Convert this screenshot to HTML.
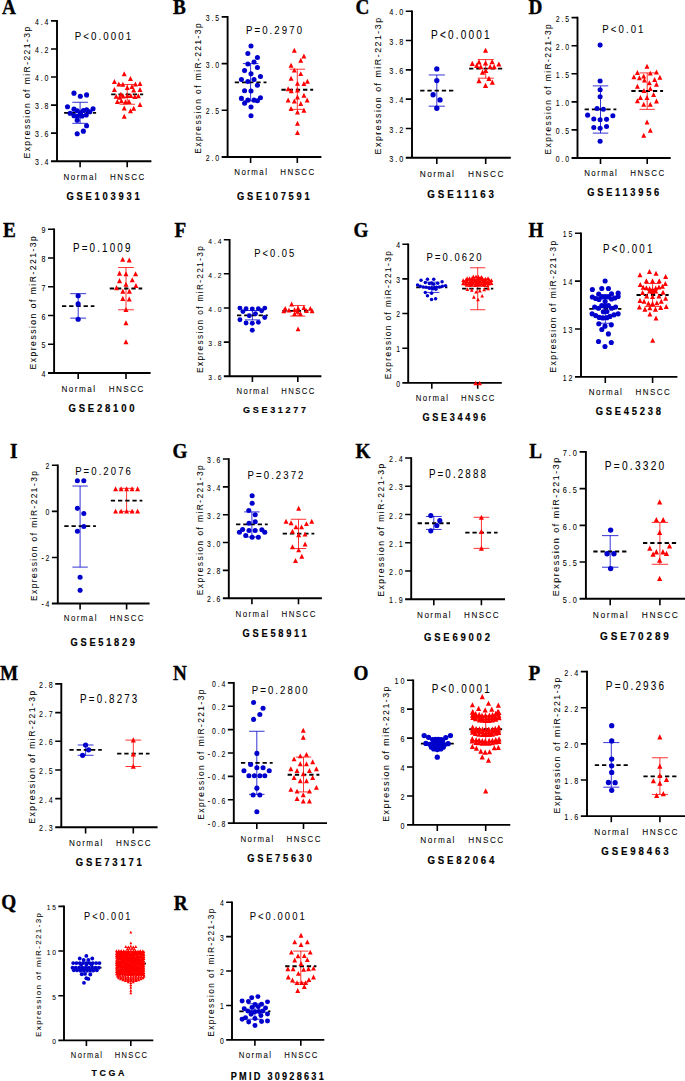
<!DOCTYPE html>
<html><head><meta charset="utf-8"><title>miR-221-3p expression</title><style>
html,body{margin:0;padding:0;background:#fff;}
svg{display:block;}
text{font-family:"Liberation Sans",sans-serif;fill:#000;}
.L{font-family:"Liberation Serif",serif;font-weight:bold;font-size:19.2px;stroke:#000;stroke-width:0.35px;}
.tk{font-size:7.0px;letter-spacing:1.9px;text-anchor:end;fill:#000;stroke:#000;stroke-width:0.05px;}
.yl{font-size:8.5px;letter-spacing:1.45px;text-anchor:middle;fill:#000;stroke:#000;stroke-width:0.05px;}
.ct{font-size:8.0px;letter-spacing:1.45px;text-anchor:middle;fill:#000;stroke:#000;stroke-width:0.05px;}
.pv{font-size:9.7px;letter-spacing:2.1px;text-anchor:middle;fill:#000;stroke:#000;stroke-width:0.05px;}
.tt{font-size:9.4px;letter-spacing:2.75px;text-anchor:middle;font-weight:bold;stroke:#000;stroke-width:0.15px;}
.ax{stroke:#000;stroke-width:1.9;fill:none;}
.tkl{stroke:#000;stroke-width:1.6;fill:none;}
.mn{stroke:#000;stroke-width:1.8;stroke-dasharray:4.3 2.9;fill:none;}
</style></head>
<body><svg width="685" height="1081" viewBox="0 0 685 1081">
<rect width="685" height="1081" fill="#fff"/>
<text class="L" transform="translate(2 13.9) scale(1.0000 1.0500)">A</text>
<path class="ax" d="M57 20.1V161.2M51 161.2H151.4"/>
<text class="tk" transform="translate(50.4 165.21) scale(1.0000 1.2000)">3.4</text>
<text class="tk" transform="translate(50.4 137.15) scale(1.0000 1.2000)">3.6</text>
<text class="tk" transform="translate(50.4 109.09) scale(1.0000 1.2000)">3.8</text>
<text class="tk" transform="translate(50.4 81.03) scale(1.0000 1.2000)">4.0</text>
<text class="tk" transform="translate(50.4 52.97) scale(1.0000 1.2000)">4.2</text>
<text class="tk" transform="translate(50.4 24.91) scale(1.0000 1.2000)">4.4</text>
<path class="tkl" d="M51 133.14H57M51 105.08H57M51 77.02H57M51 48.96H57M51 20.9H57M80.1 161.2V167.2M127.2 161.2V167.2"/>
<text class="yl" transform="translate(30.44 91.95) rotate(-90) scale(1.0000)">Expression of miR-221-3p</text>
<text class="pv" transform="translate(104.05 40.04) scale(1.0000 1.2200)">P&lt;0.0001</text>
<text class="ct" transform="translate(80.82 179.59) scale(1.0000 1.1500)">Normal</text>
<text class="ct" transform="translate(127.92 179.59) scale(1.0000 1.1500)">HNSCC</text>
<text class="tt" transform="translate(104.43 199.7) scale(1.0000 1.1000)">GSE103931</text>
<path d="M80.1 102.27V123.32M72.3 102.27H87.9M72.3 123.32H87.9" stroke="#0000cc" stroke-width="0.8" fill="none"/>
<path class="mn" d="M64.1 112.8H96.1"/>
<g fill="#0000cc"><circle cx="73.97" cy="93.17" r="2.55"/><circle cx="80.32" cy="96.21" r="2.55"/><circle cx="86.6" cy="94.92" r="2.55"/><circle cx="67.5" cy="106.76" r="2.55"/><circle cx="93.07" cy="108.71" r="2.55"/><circle cx="73.97" cy="109.16" r="2.55"/><circle cx="77.21" cy="110.78" r="2.55"/><circle cx="83.36" cy="110.45" r="2.55"/><circle cx="86.6" cy="109.81" r="2.55"/><circle cx="89.83" cy="111.75" r="2.55"/><circle cx="70.09" cy="113.24" r="2.55"/><circle cx="73.97" cy="115.63" r="2.55"/><circle cx="77.53" cy="116.28" r="2.55"/><circle cx="82.06" cy="115.95" r="2.55"/><circle cx="86.27" cy="114.98" r="2.55"/><circle cx="77.21" cy="120.16" r="2.55"/><circle cx="86.6" cy="125.79" r="2.55"/><circle cx="83.36" cy="131.17" r="2.55"/><circle cx="77.21" cy="133.75" r="2.55"/><circle cx="80.45" cy="112.72" r="2.55"/></g>
<path d="M127.2 84.46V104.24M119.4 84.46H135M119.4 104.24H135" stroke="#ff0000" stroke-width="0.8" fill="none"/>
<path class="mn" d="M111.2 94.28H143.2"/>
<path fill="#ff0000" d="M124.23 71.34L126.73 76.34H121.73ZM130.48 76.01L132.98 81.01H127.98ZM114.42 78.93L116.92 83.93H111.92ZM118.8 81.56L121.3 86.56H116.3ZM122.89 81.85L125.39 86.85H120.39ZM135.45 81.56L137.95 86.56H132.95ZM140 80.97L142.5 85.97H137.5ZM127.27 85.06L129.77 90.06H124.77ZM131.94 83.89L134.44 88.89H129.44ZM114.42 87.1L116.92 92.1H111.92ZM133.69 87.4L136.19 92.4H131.19ZM140 87.1L142.5 92.1H137.5ZM120.85 91.78L123.35 96.78H118.35ZM116.18 93.82L118.68 98.82H113.68ZM119.68 94.7L122.18 99.7H117.18ZM123.18 93.53L125.68 98.53H120.68ZM127.27 92.94L129.77 97.94H124.77ZM130.77 92.94L133.27 97.94H128.27ZM134.86 94.11L137.36 99.11H132.36ZM138.36 93.24L140.86 98.24H135.86ZM117.34 99.07L119.84 104.07H114.84ZM121.43 98.2L123.93 103.2H118.93ZM125.52 99.37L128.02 104.37H123.02ZM129.02 99.07L131.52 104.07H126.52ZM140 101.99L142.5 106.99H137.5ZM124.23 105.5L126.73 110.5H121.73ZM133.69 105.79L136.19 110.79H131.19ZM130.48 108.13L132.98 113.13H127.98ZM124.23 113.67L126.73 118.67H121.73Z"/>
<text class="L" transform="translate(173 13.6) scale(1.0000 1.0500)">B</text>
<path class="ax" d="M227.6 16.1V157M221.65 157H321.4"/>
<text class="tk" transform="translate(221.06 160.98) scale(0.9915 1.1898)">2.0</text>
<text class="tk" transform="translate(221.06 114.28) scale(0.9915 1.1898)">2.5</text>
<text class="tk" transform="translate(221.06 67.58) scale(0.9915 1.1898)">3.0</text>
<text class="tk" transform="translate(221.06 20.88) scale(0.9915 1.1898)">3.5</text>
<path class="tkl" d="M221.65 110.3H227.6M221.65 63.6H227.6M221.65 16.9H227.6M250.6 157V162.95M297.3 157V162.95"/>
<text class="yl" transform="translate(201.32 87.85) rotate(-90) scale(0.9915)">Expression of miR-221-3p</text>
<text class="pv" transform="translate(275.04 34.1) scale(0.9915 1.2096)">P=0.2970</text>
<text class="ct" transform="translate(251.32 175.17) scale(0.9915 1.1402)">Normal</text>
<text class="ct" transform="translate(298.02 175.17) scale(0.9915 1.1402)">HNSCC</text>
<text class="tt" transform="translate(274.71 200.17) scale(0.9915 1.0907)">GSE107591</text>
<path d="M250.6 63.6V100.96M242.87 63.6H258.33M242.87 100.96H258.33" stroke="#0000cc" stroke-width="0.8" fill="none"/>
<path class="mn" d="M234.74 82.28H266.46"/>
<g fill="#0000cc"><circle cx="251" cy="46.07" r="2.53"/><circle cx="247.85" cy="53.43" r="2.53"/><circle cx="257.42" cy="57.52" r="2.53"/><circle cx="254.04" cy="61.96" r="2.53"/><circle cx="247.85" cy="63.94" r="2.53"/><circle cx="257.42" cy="67.45" r="2.53"/><circle cx="244.58" cy="70.6" r="2.53"/><circle cx="251" cy="73.87" r="2.53"/><circle cx="260.46" cy="76.55" r="2.53"/><circle cx="241.42" cy="79.47" r="2.53"/><circle cx="254.04" cy="79.47" r="2.53"/><circle cx="247.85" cy="81.46" r="2.53"/><circle cx="257.42" cy="85.31" r="2.53"/><circle cx="244.58" cy="90.8" r="2.53"/><circle cx="251" cy="91.04" r="2.53"/><circle cx="241.42" cy="98.39" r="2.53"/><circle cx="247.85" cy="100.15" r="2.53"/><circle cx="254.04" cy="100.15" r="2.53"/><circle cx="257.42" cy="100.73" r="2.53"/><circle cx="260.46" cy="97.81" r="2.53"/><circle cx="244.58" cy="103.3" r="2.53"/><circle cx="251" cy="106.92" r="2.53"/><circle cx="251" cy="115.68" r="2.53"/></g>
<path d="M297.3 69.2V109.37M289.57 69.2H305.03M289.57 109.37H305.03" stroke="#ff0000" stroke-width="0.8" fill="none"/>
<path class="mn" d="M281.44 89.75H313.16"/>
<path fill="#ff0000" d="M294.33 47.78L296.81 52.74H291.85ZM303.91 53.62L306.38 58.58H301.43ZM300.75 57.71L303.23 62.67H298.27ZM291.06 62.73L293.54 67.69H288.58ZM294.33 67.64L296.81 72.6H291.85ZM300.75 71.14L303.23 76.1H298.27ZM291.06 75.81L293.54 80.77H288.58ZM307.41 78.73L309.89 83.69H304.93ZM303.91 81.07L306.38 86.03H301.43ZM297.48 80.72L299.96 85.68H295ZM288.14 86.32L290.62 91.28H285.66ZM291.29 88.31L293.77 93.27H288.81ZM297.48 87.49L299.96 92.45H295ZM303.91 92.75L306.38 97.71H301.43ZM297.48 94.5L299.96 99.46H295ZM288.14 97.42L290.62 102.38H285.66ZM294.33 98.59L296.81 103.54H291.85ZM307.18 97.42L309.65 102.38H304.7ZM300.75 100.92L303.23 105.88H298.27ZM291.06 105.94L293.54 110.9H288.58ZM297.48 109.45L299.96 114.41H295ZM303.91 107.7L306.38 112.65H301.43ZM297.48 120.78L299.96 125.73H295ZM297.48 130.12L299.96 135.08H295Z"/>
<text class="L" transform="translate(355.4 14.4) scale(1.0000 1.0500)">C</text>
<path class="ax" d="M412 10.4V157.8M405.77 157.8H510.8"/>
<text class="tk" transform="translate(405.15 161.92) scale(1.0382 1.2459)">3.0</text>
<text class="tk" transform="translate(405.15 132.6) scale(1.0382 1.2459)">3.2</text>
<text class="tk" transform="translate(405.15 103.28) scale(1.0382 1.2459)">3.4</text>
<text class="tk" transform="translate(405.15 73.96) scale(1.0382 1.2459)">3.6</text>
<text class="tk" transform="translate(405.15 44.64) scale(1.0382 1.2459)">3.8</text>
<text class="tk" transform="translate(405.15 15.32) scale(1.0382 1.2459)">4.0</text>
<path class="tkl" d="M405.77 128.48H412M405.77 99.16H412M405.77 69.84H412M405.77 40.52H412M405.77 11.2H412M436.8 157.8V164.03M485.7 157.8V164.03"/>
<text class="yl" transform="translate(381.46 85.4) rotate(-90) scale(1.0382)">Expression of miR-221-3p</text>
<text class="pv" transform="translate(461.39 39.2) scale(1.0382 1.2666)">P&lt;0.0001</text>
<text class="ct" transform="translate(437.55 177.12) scale(1.0382 1.1939)">Normal</text>
<text class="ct" transform="translate(486.45 177.12) scale(1.0382 1.1939)">HNSCC</text>
<text class="tt" transform="translate(462.08 197.84) scale(1.0382 1.1420)">GSE11163</text>
<path d="M436.8 74.97V106.2M428.7 74.97H444.9M428.7 106.2H444.9" stroke="#0000cc" stroke-width="0.8" fill="none"/>
<path class="mn" d="M420.19 90.66H453.41"/>
<g fill="#0000cc"><circle cx="436.8" cy="68.96" r="2.65"/><circle cx="436.8" cy="80.54" r="2.65"/><circle cx="433.1" cy="94.76" r="2.65"/><circle cx="440" cy="99.89" r="2.65"/><circle cx="436.8" cy="108.25" r="2.65"/></g>
<path d="M485.7 59.58V78.2M477.6 59.58H493.8M477.6 78.2H493.8" stroke="#ff0000" stroke-width="0.8" fill="none"/>
<path class="mn" d="M469.09 68.67H502.31"/>
<path fill="#ff0000" d="M485.55 47.66L488.15 52.85H482.96ZM472.3 60.79L474.89 65.99H469.7ZM479.01 59.33L481.61 64.53H476.42ZM485.55 60.21L488.15 65.4H482.96ZM492.15 59.04L494.75 64.23H489.56ZM498.87 61.38L501.46 66.57H496.27ZM476.68 62.84L479.27 68.03H474.08ZM480.77 64.01L483.36 69.2H478.17ZM490.11 64.01L492.71 69.2H487.51ZM494.2 64.01L496.79 69.2H491.6ZM482.52 69.55L485.11 74.74H479.92ZM485.73 67.8L488.33 72.99H483.13ZM479.01 78.02L481.61 83.21H476.42ZM488.94 75.69L491.54 80.88H486.35ZM492.33 79.48L494.92 84.67H489.73ZM485.55 82.69L488.15 87.88H482.96Z"/>
<text class="L" transform="translate(528.4 14) scale(1.0000 1.0500)">D</text>
<path class="ax" d="M577.5 16.8V158M571.55 158H670.7"/>
<text class="tk" transform="translate(570.96 161.98) scale(0.9915 1.1898)">0.0</text>
<text class="tk" transform="translate(570.96 133.9) scale(0.9915 1.1898)">0.5</text>
<text class="tk" transform="translate(570.96 105.82) scale(0.9915 1.1898)">1.0</text>
<text class="tk" transform="translate(570.96 77.74) scale(0.9915 1.1898)">1.5</text>
<text class="tk" transform="translate(570.96 49.66) scale(0.9915 1.1898)">2.0</text>
<text class="tk" transform="translate(570.96 21.58) scale(0.9915 1.1898)">2.5</text>
<path class="tkl" d="M571.55 129.92H577.5M571.55 101.84H577.5M571.55 73.76H577.5M571.55 45.68H577.5M571.55 17.6H577.5M600.5 158V163.95M647.2 158V163.95"/>
<text class="yl" transform="translate(550.82 88.7) rotate(-90) scale(0.9915)">Expression of miR-221-3p</text>
<text class="pv" transform="translate(623.94 32.6) scale(0.9915 1.2096)">P&lt;0.01</text>
<text class="ct" transform="translate(601.22 175.97) scale(0.9915 1.1402)">Normal</text>
<text class="ct" transform="translate(647.92 175.97) scale(0.9915 1.1402)">HNSCC</text>
<text class="tt" transform="translate(624.61 196.37) scale(0.9915 1.0907)">GSE113956</text>
<path d="M600.5 85.89V133.12M592.77 85.89H608.23M592.77 133.12H608.23" stroke="#0000cc" stroke-width="0.8" fill="none"/>
<path class="mn" d="M584.64 109.37H616.36"/>
<g fill="#0000cc"><circle cx="600.11" cy="45.11" r="2.53"/><circle cx="600.11" cy="80.99" r="2.53"/><circle cx="600.11" cy="89.79" r="2.53"/><circle cx="600.11" cy="96.75" r="2.53"/><circle cx="597.08" cy="108.45" r="2.53"/><circle cx="603.39" cy="109.24" r="2.53"/><circle cx="587.62" cy="115.15" r="2.53"/><circle cx="612.85" cy="115.68" r="2.53"/><circle cx="593.8" cy="119.09" r="2.53"/><circle cx="600.11" cy="119.75" r="2.53"/><circle cx="606.54" cy="119.36" r="2.53"/><circle cx="593.8" cy="127.5" r="2.53"/><circle cx="600.11" cy="128.29" r="2.53"/><circle cx="606.54" cy="126.58" r="2.53"/><circle cx="600.11" cy="141.3" r="2.53"/></g>
<path d="M647.2 72.92V109.37M639.47 72.92H654.93M639.47 109.37H654.93" stroke="#ff0000" stroke-width="0.8" fill="none"/>
<path class="mn" d="M631.34 91H663.06"/>
<path fill="#ff0000" d="M647.02 63.8L649.5 68.76H644.54ZM637.42 69.98L639.9 74.94H634.95ZM650.3 70.64L652.78 75.59H647.82ZM656.48 69.59L658.96 74.54H654ZM633.88 74.32L636.36 79.27H631.4ZM639.4 75.24L641.87 80.19H636.92ZM643.73 73.53L646.21 78.49H641.25ZM659.89 74.84L662.37 79.8H657.42ZM644.39 77.6L646.87 82.56H641.91ZM654.64 76.94L657.12 81.9H652.16ZM649.38 80.23L651.86 85.19H646.9ZM656.48 81.81L658.96 86.76H654ZM637.42 83.78L639.9 88.74H634.95ZM650.3 86.01L652.78 90.97H647.82ZM643.99 87.98L646.47 92.94H641.52ZM640.45 94.95L642.93 99.91H637.97ZM647.02 94.95L649.5 99.91H644.54ZM653.59 92.06L656.07 97.01H651.11ZM637.42 98.23L639.9 103.19H634.95ZM656.48 98.5L658.96 103.45H654ZM643.73 101.78L646.21 106.74H641.25ZM650.3 101.78L652.78 106.74H647.82ZM647.02 119.52L649.5 124.48H644.54ZM650.3 127.8L652.78 132.76H647.82ZM643.73 132.79L646.21 137.75H641.25Z"/>
<text class="L" transform="translate(3 237.2) scale(1.0000 1.0500)">E</text>
<path class="ax" d="M54.1 228.5V373M48.01 373H150.6"/>
<text class="tk" transform="translate(47.4 377.05) scale(1.0149 1.2178)">4</text>
<text class="tk" transform="translate(47.4 348.31) scale(1.0149 1.2178)">5</text>
<text class="tk" transform="translate(47.4 319.57) scale(1.0149 1.2178)">6</text>
<text class="tk" transform="translate(47.4 290.83) scale(1.0149 1.2178)">7</text>
<text class="tk" transform="translate(47.4 262.09) scale(1.0149 1.2178)">8</text>
<text class="tk" transform="translate(47.4 233.35) scale(1.0149 1.2178)">9</text>
<path class="tkl" d="M48.01 344.26H54.1M48.01 315.52H54.1M48.01 286.78H54.1M48.01 258.04H54.1M48.01 229.3H54.1M78.2 373V379.09M126 373V379.09"/>
<text class="yl" transform="translate(35.89 302.05) rotate(-90) scale(1.0149)">Expression of miR-221-3p</text>
<text class="pv" transform="translate(102.77 251.5) scale(1.0149 1.2381)">P=0.1009</text>
<text class="ct" transform="translate(78.94 391.84) scale(1.0149 1.1671)">Normal</text>
<text class="ct" transform="translate(126.74 391.84) scale(1.0149 1.1671)">HNSCC</text>
<text class="tt" transform="translate(102.9 412.06) scale(1.0149 1.1163)">GSE28100</text>
<path d="M78.2 293.68V318.11M70.28 293.68H86.12M70.28 318.11H86.12" stroke="#0000cc" stroke-width="0.8" fill="none"/>
<path class="mn" d="M61.96 306.04H94.44"/>
<g fill="#0000cc"><circle cx="78.13" cy="295.73" r="2.59"/><circle cx="78.13" cy="303.88" r="2.59"/><circle cx="78.13" cy="319.25" r="2.59"/></g>
<path d="M126 267.52V309.77M118.08 267.52H133.92M118.08 309.77H133.92" stroke="#ff0000" stroke-width="0.8" fill="none"/>
<path class="mn" d="M109.76 288.5H142.24"/>
<path fill="#ff0000" d="M122.68 256.67L125.22 261.74H120.14ZM129.25 257.46L131.79 262.53H126.71ZM119.53 270.6L122.06 275.67H116.99ZM125.97 271.13L128.5 276.2H123.43ZM135.56 271.13L138.1 276.2H133.02ZM119.53 278.09L122.06 283.16H116.99ZM132.27 277.17L134.81 282.24H129.74ZM125.97 281.64L128.5 286.71H123.43ZM116.5 285.05L119.04 290.13H113.97ZM135.95 282.95L138.49 288.03H133.42ZM122.81 288.6L125.35 293.68H120.27ZM129.38 288.6L131.92 293.68H126.85ZM122.81 295.83L125.35 300.9H120.27ZM129.25 296.49L131.79 301.56H126.71ZM125.97 307L128.5 312.07H123.43ZM125.97 320.14L128.5 325.21H123.43ZM125.97 339.19L128.5 344.27H123.43Z"/>
<text class="L" transform="translate(174.5 237.2) scale(1.0000 1.0500)">F</text>
<path class="ax" d="M229.6 238.9V376.2M223.82 376.2H321.4"/>
<text class="tk" transform="translate(223.24 380.1) scale(0.9639 1.1567)">3.6</text>
<text class="tk" transform="translate(223.24 345.97) scale(0.9639 1.1567)">3.8</text>
<text class="tk" transform="translate(223.24 311.85) scale(0.9639 1.1567)">4.0</text>
<text class="tk" transform="translate(223.24 277.72) scale(0.9639 1.1567)">4.2</text>
<text class="tk" transform="translate(223.24 243.6) scale(0.9639 1.1567)">4.4</text>
<path class="tkl" d="M223.82 342.08H229.6M223.82 307.95H229.6M223.82 273.82H229.6M223.82 239.7H229.6M252.4 376.2V381.98M297.8 376.2V381.98"/>
<text class="yl" transform="translate(203.23 308.85) rotate(-90) scale(0.9639)">Expression of miR-221-3p</text>
<text class="pv" transform="translate(275.21 256.78) scale(0.9639 1.1760)">P&lt;0.05</text>
<text class="ct" transform="translate(253.1 394.17) scale(0.9639 1.1085)">Normal</text>
<text class="ct" transform="translate(298.5 394.17) scale(0.9639 1.1085)">HNSCC</text>
<text class="tt" transform="translate(275.83 412.87) scale(0.9639 1.0603)">GSE31277</text>
<path d="M252.4 310.51V319.89M244.88 310.51H259.92M244.88 319.89H259.92" stroke="#0000cc" stroke-width="0.8" fill="none"/>
<path class="mn" d="M236.98 315.46H267.82"/>
<g fill="#0000cc"><circle cx="239.91" cy="308.1" r="2.46"/><circle cx="246.09" cy="308.69" r="2.46"/><circle cx="252.28" cy="308.92" r="2.46"/><circle cx="258.36" cy="308.69" r="2.46"/><circle cx="264.78" cy="308.1" r="2.46"/><circle cx="242.94" cy="311.61" r="2.46"/><circle cx="261.63" cy="310.79" r="2.46"/><circle cx="249.25" cy="315.69" r="2.46"/><circle cx="255.44" cy="313.71" r="2.46"/><circle cx="264.78" cy="317.45" r="2.46"/><circle cx="239.91" cy="319.78" r="2.46"/><circle cx="246.09" cy="323.05" r="2.46"/><circle cx="252.28" cy="323.28" r="2.46"/><circle cx="258.36" cy="322.35" r="2.46"/><circle cx="252.28" cy="330.29" r="2.46"/></g>
<path d="M297.8 305.56V316.14M290.28 305.56H305.32M290.28 316.14H305.32" stroke="#ff0000" stroke-width="0.8" fill="none"/>
<path class="mn" d="M282.38 310.85H313.22"/>
<path fill="#ff0000" d="M291.64 301.6L294.05 306.42H289.23ZM285.22 306.04L287.63 310.85H282.81ZM288.96 307.79L291.37 312.61H286.55ZM294.56 307.2L296.97 312.02H292.15ZM298.07 305.69L300.48 310.5H295.66ZM303.91 305.1L306.31 309.92H301.5ZM310.33 306.04L312.74 310.85H307.92ZM283.82 308.37L286.23 313.19H281.41ZM306.47 308.14L308.88 312.96H304.06ZM312.08 308.37L314.49 313.19H309.67ZM297.48 308.96L299.89 313.77H295.07ZM294.56 311.29L296.97 316.11H292.15ZM300.4 311.29L302.81 316.11H297.99ZM298.07 326.47L300.48 331.29H295.66Z"/>
<text class="L" transform="translate(353.6 237.2) scale(1.0000 1.0500)">G</text>
<path class="ax" d="M408.2 243.4V382.9M402.35 382.9H501.8"/>
<text class="tk" transform="translate(401.77 386.83) scale(0.9745 1.1694)">0</text>
<text class="tk" transform="translate(401.77 352.16) scale(0.9745 1.1694)">1</text>
<text class="tk" transform="translate(401.77 317.48) scale(0.9745 1.1694)">2</text>
<text class="tk" transform="translate(401.77 282.81) scale(0.9745 1.1694)">3</text>
<text class="tk" transform="translate(401.77 248.13) scale(0.9745 1.1694)">4</text>
<path class="tkl" d="M402.35 348.22H408.2M402.35 313.55H408.2M402.35 278.88H408.2M402.35 244.2H408.2M431.8 382.9V388.75M477.7 382.9V388.75"/>
<text class="yl" transform="translate(391.17 314.45) rotate(-90) scale(0.9745)">Expression of miR-221-3p</text>
<text class="pv" transform="translate(455.12 261.33) scale(0.9745 1.1889)">P=0.0620</text>
<text class="ct" transform="translate(432.51 401.21) scale(0.9745 1.1207)">Normal</text>
<text class="ct" transform="translate(478.41 401.21) scale(0.9745 1.1207)">HNSCC</text>
<text class="tt" transform="translate(455.49 420.61) scale(0.9745 1.0720)">GSE34496</text>
<path d="M431.8 282.17V292.4M424.2 282.17H439.4M424.2 292.4H439.4" stroke="#0000cc" stroke-width="0.8" fill="none"/>
<path class="mn" d="M416.21 287.3H447.39"/>
<g fill="#0000cc"><circle cx="421.05" cy="280.18" r="1.75"/><circle cx="427.47" cy="279.3" r="1.75"/><circle cx="433.72" cy="279.3" r="1.75"/><circle cx="442.07" cy="281.81" r="1.75"/><circle cx="425.31" cy="282.39" r="1.75"/><circle cx="429.4" cy="283.39" r="1.75"/><circle cx="431.56" cy="283.09" r="1.75"/><circle cx="433.72" cy="284.26" r="1.75"/><circle cx="437.69" cy="283.21" r="1.75"/><circle cx="417.55" cy="284.96" r="1.75"/><circle cx="420.18" cy="286.31" r="1.75"/><circle cx="423.09" cy="286.89" r="1.75"/><circle cx="426.01" cy="287.3" r="1.75"/><circle cx="428.93" cy="287.77" r="1.75"/><circle cx="431.56" cy="287.88" r="1.75"/><circle cx="434.19" cy="287.65" r="1.75"/><circle cx="436.53" cy="287.3" r="1.75"/><circle cx="439.45" cy="286.89" r="1.75"/><circle cx="442.36" cy="286.31" r="1.75"/><circle cx="445.58" cy="285.72" r="1.75"/><circle cx="429.52" cy="288.35" r="1.75"/><circle cx="433.02" cy="288.64" r="1.75"/><circle cx="435.94" cy="289.23" r="1.75"/><circle cx="425.31" cy="292.55" r="1.75"/><circle cx="431.56" cy="293.14" r="1.75"/><circle cx="427.47" cy="295.82" r="1.75"/><circle cx="431.56" cy="299.45" r="1.75"/><circle cx="435.65" cy="298.86" r="1.75"/></g>
<path d="M477.7 267.78V309.74M470.1 267.78H485.3M470.1 309.74H485.3" stroke="#ff0000" stroke-width="0.8" fill="none"/>
<path class="mn" d="M462.11 288.58H493.29"/>
<path fill="#ff0000" d="M475.7 380.72L478 385.32H473.4ZM479.7 380.72L482 385.32H477.4Z"/>
<path fill="#ff0000" d="M473.34 274.53L475.19 278.23H471.49ZM476.04 274.56L477.89 278.26H474.19ZM478.44 274.7L480.29 278.41H476.59ZM481.55 274.94L483.4 278.65H479.7ZM467.16 276.3L469.01 280H465.31ZM469.62 276.33L471.47 280.03H467.77ZM472 276.23L473.86 279.93H470.15ZM474.63 276.72L476.48 280.42H472.78ZM477.6 276.65L479.45 280.35H475.75ZM480.18 276.28L482.03 279.98H478.33ZM482.49 276.54L484.34 280.24H480.63ZM485.34 276.68L487.19 280.38H483.49ZM488.03 276.22L489.88 279.92H486.18ZM463.16 278.27L465.02 281.97H461.31ZM465.7 277.97L467.56 281.67H463.85ZM468.28 277.92L470.14 281.62H466.43ZM471.16 278.38L473.01 282.09H469.31ZM473.53 278.04L475.38 281.75H471.68ZM476.35 278.21L478.2 281.91H474.49ZM478.93 278.37L480.78 282.08H477.08ZM481.31 278.11L483.16 281.81H479.45ZM483.96 278.12L485.81 281.83H482.11ZM486.3 278.05L488.15 281.75H484.45ZM489.29 277.89L491.14 281.59H487.44ZM491.43 278.24L493.28 281.94H489.58ZM464.27 279.88L466.12 283.59H462.42ZM466.98 279.77L468.83 283.47H465.13ZM469.9 279.68L471.75 283.38H468.05ZM472.15 279.68L474 283.39H470.3ZM474.88 279.73L476.73 283.43H473.03ZM477.31 280.01L479.17 283.71H475.46ZM479.89 279.9L481.74 283.6H478.04ZM482.84 279.62L484.69 283.33H480.99ZM484.94 279.7L486.79 283.4H483.09ZM487.96 279.93L489.81 283.64H486.11ZM490.24 279.76L492.09 283.47H488.39ZM462.91 281.54L464.76 285.24H461.05ZM465.43 281.68L467.28 285.38H463.57ZM468.54 281.84L470.39 285.54H466.69ZM471.04 281.84L472.89 285.54H469.19ZM473.21 281.44L475.06 285.14H471.36ZM476.38 281.73L478.23 285.43H474.53ZM478.65 281.83L480.5 285.53H476.79ZM481.37 281.75L483.22 285.46H479.52ZM483.78 281.38L485.63 285.08H481.92ZM486.47 281.35L488.32 285.05H484.61ZM489.03 281.84L490.88 285.54H487.18ZM491.6 281.27L493.45 284.97H489.75ZM466.73 283.06L468.58 286.77H464.88ZM469.77 283.18L471.62 286.88H467.92ZM472.07 283.02L473.93 286.72H470.22ZM475.09 283.22L476.94 286.92H473.24ZM477.22 283L479.08 286.7H475.37ZM479.73 283.06L481.58 286.77H477.88ZM482.71 283.05L484.56 286.76H480.85ZM484.92 283.26L486.78 286.96H483.07ZM487.65 283.56L489.5 287.27H485.8ZM467.41 287.34L469.26 291.04H465.56ZM471.79 288.07L473.64 291.77H469.94ZM476.17 289.89L478.02 293.59H474.32ZM479.82 288.8L481.67 292.5H477.97ZM484.2 287.55L486.05 291.26H482.35ZM488.21 286.61L490.06 290.31H486.36ZM473.83 295L475.68 298.7H471.98ZM482.15 293.9L484 297.61H480.3ZM477.99 297.55L479.84 301.26H476.14Z"/>
<text class="L" transform="translate(528.4 237) scale(1.0000 1.0500)">H</text>
<path class="ax" d="M581 232.4V376.9M574.97 376.9H677.4"/>
<text class="tk" transform="translate(574.37 380.92) scale(1.0042 1.2051)">12</text>
<text class="tk" transform="translate(574.37 333.02) scale(1.0042 1.2051)">13</text>
<text class="tk" transform="translate(574.37 285.12) scale(1.0042 1.2051)">14</text>
<text class="tk" transform="translate(574.37 237.22) scale(1.0042 1.2051)">15</text>
<path class="tkl" d="M574.97 329H581M574.97 281.1H581M574.97 233.2H581M605.3 376.9V382.93M652.6 376.9V382.93"/>
<text class="yl" transform="translate(556.06 305.95) rotate(-90) scale(1.0042)">Expression of miR-221-3p</text>
<text class="pv" transform="translate(628.75 252.65) scale(1.0042 1.2252)">P&lt;0.001</text>
<text class="ct" transform="translate(606.03 395.21) scale(1.0042 1.1549)">Normal</text>
<text class="ct" transform="translate(653.33 395.21) scale(1.0042 1.1549)">HNSCC</text>
<text class="tt" transform="translate(629.73 415.32) scale(1.0042 1.1047)">GSE45238</text>
<path d="M605.3 294.51V323.25M597.47 294.51H613.13M597.47 323.25H613.13" stroke="#0000cc" stroke-width="0.8" fill="none"/>
<path class="mn" d="M589.23 308.88H621.37"/>
<g fill="#0000cc"><circle cx="605.12" cy="281.03" r="2.56"/><circle cx="592.34" cy="289.56" r="2.56"/><circle cx="601.8" cy="288.54" r="2.56"/><circle cx="608.44" cy="288.54" r="2.56"/><circle cx="598.73" cy="294.16" r="2.56"/><circle cx="611.51" cy="293.91" r="2.56"/><circle cx="618.15" cy="293.14" r="2.56"/><circle cx="592.34" cy="296.97" r="2.56"/><circle cx="595.66" cy="298.51" r="2.56"/><circle cx="598.99" cy="299.53" r="2.56"/><circle cx="601.8" cy="296.97" r="2.56"/><circle cx="605.12" cy="296.97" r="2.56"/><circle cx="608.44" cy="296.97" r="2.56"/><circle cx="611.51" cy="299.02" r="2.56"/><circle cx="614.83" cy="297.99" r="2.56"/><circle cx="618.15" cy="296.46" r="2.56"/><circle cx="605.12" cy="301.57" r="2.56"/><circle cx="594.64" cy="306.94" r="2.56"/><circle cx="598.48" cy="308.21" r="2.56"/><circle cx="601.8" cy="305.66" r="2.56"/><circle cx="605.12" cy="306.17" r="2.56"/><circle cx="608.44" cy="305.66" r="2.56"/><circle cx="611.51" cy="308.21" r="2.56"/><circle cx="615.59" cy="306.94" r="2.56"/><circle cx="603.33" cy="311.79" r="2.56"/><circle cx="606.91" cy="311.54" r="2.56"/><circle cx="592.09" cy="313.83" r="2.56"/><circle cx="595.66" cy="315.62" r="2.56"/><circle cx="599.24" cy="317.41" r="2.56"/><circle cx="602.82" cy="317.92" r="2.56"/><circle cx="606.91" cy="317.67" r="2.56"/><circle cx="609.97" cy="316.39" r="2.56"/><circle cx="614.06" cy="314.86" r="2.56"/><circle cx="618.15" cy="313.83" r="2.56"/><circle cx="598.8" cy="323.8" r="2.56"/><circle cx="604.97" cy="326.16" r="2.56"/><circle cx="611.28" cy="324.85" r="2.56"/><circle cx="601.82" cy="329.45" r="2.56"/><circle cx="608.39" cy="333.92" r="2.56"/><circle cx="598.53" cy="341.54" r="2.56"/><circle cx="611.28" cy="342.46" r="2.56"/><circle cx="604.97" cy="346.53" r="2.56"/></g>
<path d="M652.6 283.5V306.49M644.77 283.5H660.43M644.77 306.49H660.43" stroke="#ff0000" stroke-width="0.8" fill="none"/>
<path class="mn" d="M636.53 294.99H668.67"/>
<path fill="#ff0000" d="M649.48 268.95L651.99 273.97H646.97ZM639.96 272.17L642.47 277.19H637.45ZM656.02 270.71L658.53 275.73H653.51ZM665.66 273.92L668.17 278.94H663.15ZM646.39 278.3L648.9 283.32H643.88ZM652.52 278.3L655.03 283.32H650.01ZM659.23 278.3L661.74 283.32H656.72ZM640.26 282.09L642.77 287.11H637.74ZM665.36 280.92L667.88 285.95H662.85ZM643.18 284.72L645.69 289.74H640.66ZM646.39 285.3L648.9 290.33H643.88ZM649.6 285.89L652.11 290.91H647.09ZM652.52 286.76L655.03 291.79H650.01ZM655.73 285.6L658.24 290.62H653.22ZM658.94 284.43L661.45 289.45H656.43ZM662.45 283.84L664.96 288.87H659.93ZM649.6 288.52L652.11 293.54H647.09ZM652.52 289.1L655.03 294.12H650.01ZM655.73 288.52L658.24 293.54H653.22ZM642.59 289.98L645.1 295H640.08ZM663.03 289.68L665.54 294.7H660.52ZM646.68 293.48L649.19 298.5H644.17ZM652.52 294.06L655.03 299.08H650.01ZM658.94 293.48L661.45 298.5H656.43ZM665.66 295.81L668.17 300.84H663.15ZM639.96 297.86L642.47 302.88H637.45ZM644.05 298.73L646.56 303.76H641.54ZM648.43 300.78L650.94 305.8H645.92ZM652.52 301.07L655.03 306.09H650.01ZM656.9 300.19L659.41 305.22H654.39ZM661.28 298.73L663.79 303.76H658.77ZM639.38 304.57L641.89 309.6H636.87ZM644.93 306.62L647.44 311.64H642.42ZM649.89 305.16L652.4 310.18H647.38ZM655.44 306.62L657.95 311.64H652.93ZM660.69 304.87L663.2 309.89H658.18ZM666.24 303.99L668.75 309.01H663.73ZM649.89 311.58L652.4 316.6H647.38ZM656.02 315.38L658.53 320.4H653.51ZM652.69 337.63L655.2 342.65H650.18Z"/>
<text class="L" transform="translate(9.9 457.6) scale(1.0000 1.0500)">I</text>
<path class="ax" d="M57.8 464.5V603.5M51.88 603.5H149.6"/>
<text class="tk" transform="translate(51.28 607.47) scale(0.9873 1.1847)">-4</text>
<text class="tk" transform="translate(51.28 561.4) scale(0.9873 1.1847)">-2</text>
<text class="tk" transform="translate(51.28 515.34) scale(0.9873 1.1847)">0</text>
<text class="tk" transform="translate(51.28 469.27) scale(0.9873 1.1847)">2</text>
<path class="tkl" d="M51.88 557.43H57.8M51.88 511.37H57.8M51.88 465.3H57.8M80.1 603.5V609.42M126.6 603.5V609.42"/>
<text class="yl" transform="translate(36.8 535.3) rotate(-90) scale(0.9873)">Expression of miR-221-3p</text>
<text class="pv" transform="translate(104.04 474.78) scale(0.9873 1.2045)">P=0.2076</text>
<text class="ct" transform="translate(80.82 621.15) scale(0.9873 1.1354)">Normal</text>
<text class="ct" transform="translate(127.32 621.15) scale(0.9873 1.1354)">HNSCC</text>
<text class="tt" transform="translate(104.11 645.65) scale(0.9873 1.0860)">GSE51829</text>
<path d="M80.1 486.03V567.11M72.4 486.03H87.8M72.4 567.11H87.8" stroke="#0000cc" stroke-width="0.8" fill="none"/>
<path class="mn" d="M64.3 526.11H95.9"/>
<g fill="#0000cc"><circle cx="77.4" cy="480.73" r="2.52"/><circle cx="83.8" cy="480.73" r="2.52"/><circle cx="77.4" cy="508.37" r="2.52"/><circle cx="83.8" cy="513.44" r="2.52"/><circle cx="83.8" cy="526.57" r="2.52"/><circle cx="77.4" cy="531.18" r="2.52"/><circle cx="80.1" cy="577.24" r="2.52"/><circle cx="80.1" cy="590.37" r="2.52"/></g>
<path d="M126.6 488.33V511.37M118.9 488.33H134.3M118.9 511.37H134.3" stroke="#ff0000" stroke-width="0.8" fill="none"/>
<path class="mn" d="M110.8 500.54H142.4"/>
<path fill="#ff0000" d="M126.6 486.31L129.07 491.25H124.13ZM132.1 486.31L134.57 491.25H129.63ZM121.1 486.31L123.57 491.25H118.63ZM137.6 486.31L140.07 491.25H135.13ZM115.6 486.31L118.07 491.25H113.13ZM126.6 508.65L129.07 513.59H124.13ZM132.1 508.65L134.57 513.59H129.63ZM121.1 508.65L123.57 513.59H118.63ZM137.6 508.65L140.07 513.59H135.13ZM115.6 508.65L118.07 513.59H113.13Z"/>
<text class="L" transform="translate(172.5 457.7) scale(1.0000 1.0500)">G</text>
<path class="ax" d="M228.8 458.2V598.2M222.86 598.2H321.9"/>
<text class="tk" transform="translate(222.27 602.18) scale(0.9894 1.1873)">2.6</text>
<text class="tk" transform="translate(222.27 574.34) scale(0.9894 1.1873)">2.8</text>
<text class="tk" transform="translate(222.27 546.5) scale(0.9894 1.1873)">3.0</text>
<text class="tk" transform="translate(222.27 518.66) scale(0.9894 1.1873)">3.2</text>
<text class="tk" transform="translate(222.27 490.82) scale(0.9894 1.1873)">3.4</text>
<text class="tk" transform="translate(222.27 462.98) scale(0.9894 1.1873)">3.6</text>
<path class="tkl" d="M222.86 570.36H228.8M222.86 542.52H228.8M222.86 514.68H228.8M222.86 486.84H228.8M222.86 459H228.8M251.9 598.2V604.14M298.5 598.2V604.14"/>
<text class="yl" transform="translate(202.61 529.5) rotate(-90) scale(0.9894)">Expression of miR-221-3p</text>
<text class="pv" transform="translate(276.54 478.89) scale(0.9894 1.2070)">P=0.2372</text>
<text class="ct" transform="translate(252.62 616.76) scale(0.9894 1.1378)">Normal</text>
<text class="ct" transform="translate(299.22 616.76) scale(0.9894 1.1378)">HNSCC</text>
<text class="tt" transform="translate(275.96 637.36) scale(0.9894 1.0883)">GSE58911</text>
<path d="M251.9 511.9V536.95M244.18 511.9H259.62M244.18 536.95H259.62" stroke="#0000cc" stroke-width="0.8" fill="none"/>
<path class="mn" d="M236.07 524.42H267.73"/>
<g fill="#0000cc"><circle cx="252.17" cy="495.84" r="2.52"/><circle cx="252.17" cy="503.2" r="2.52"/><circle cx="248.78" cy="510.44" r="2.52"/><circle cx="255.2" cy="514.76" r="2.52"/><circle cx="249.01" cy="523.28" r="2.52"/><circle cx="255.2" cy="521.77" r="2.52"/><circle cx="242.59" cy="529.47" r="2.52"/><circle cx="239.44" cy="532.28" r="2.52"/><circle cx="249.01" cy="530.53" r="2.52"/><circle cx="255.2" cy="530.53" r="2.52"/><circle cx="261.86" cy="529.71" r="2.52"/><circle cx="264.78" cy="532.28" r="2.52"/><circle cx="245.74" cy="535.55" r="2.52"/><circle cx="252.17" cy="537.3" r="2.52"/><circle cx="258.36" cy="537.3" r="2.52"/></g>
<path d="M298.5 519.27V548.51M290.78 519.27H306.22M290.78 548.51H306.22" stroke="#ff0000" stroke-width="0.8" fill="none"/>
<path class="mn" d="M282.67 533.61H314.33"/>
<path fill="#ff0000" d="M298.65 505.73L301.12 510.68H296.18ZM286.04 518.81L288.51 523.76H283.56ZM291.06 520.21L293.53 525.16H288.58ZM306.47 521.15L308.95 526.09H304ZM311.73 518.81L314.2 523.76H309.26ZM295.96 524.42L298.44 529.36H293.49ZM301.57 524.42L304.04 529.36H299.1ZM292.46 528.74L294.93 533.69H289.99ZM298.65 532.24L301.12 537.19H296.18ZM305.07 531.66L307.55 536.61H302.6ZM292.46 544.27L294.93 549.22H289.99ZM305.07 541.59L307.55 546.53H302.6ZM298.65 547.43L301.12 552.37H296.18ZM301.8 553.85L304.28 558.8H299.33ZM295.5 557.94L297.97 562.88H293.02Z"/>
<text class="L" transform="translate(355.4 457.7) scale(1.0000 1.0500)">K</text>
<path class="ax" d="M411.2 457.2V599.2M405.14 599.2H505"/>
<text class="tk" transform="translate(404.53 603.24) scale(1.0106 1.2127)">1.9</text>
<text class="tk" transform="translate(404.53 575) scale(1.0106 1.2127)">2.0</text>
<text class="tk" transform="translate(404.53 546.76) scale(1.0106 1.2127)">2.1</text>
<text class="tk" transform="translate(404.53 518.52) scale(1.0106 1.2127)">2.2</text>
<text class="tk" transform="translate(404.53 490.28) scale(1.0106 1.2127)">2.3</text>
<text class="tk" transform="translate(404.53 462.04) scale(1.0106 1.2127)">2.4</text>
<path class="tkl" d="M405.14 570.96H411.2M405.14 542.72H411.2M405.14 514.48H411.2M405.14 486.24H411.2M405.14 458H411.2M433.8 599.2V605.26M481.4 599.2V605.26"/>
<text class="yl" transform="translate(383.88 529.5) rotate(-90) scale(1.0106)">Expression of miR-221-3p</text>
<text class="pv" transform="translate(458.46 478.18) scale(1.0106 1.2330)">P=0.2888</text>
<text class="ct" transform="translate(434.53 618.03) scale(1.0106 1.1622)">Normal</text>
<text class="ct" transform="translate(482.13 618.03) scale(1.0106 1.1622)">HNSCC</text>
<text class="tt" transform="translate(458.39 641.14) scale(1.0106 1.1117)">GSE69002</text>
<path d="M433.8 516.46V529.45M425.92 516.46H441.68M425.92 529.45H441.68" stroke="#0000cc" stroke-width="0.8" fill="none"/>
<path class="mn" d="M417.63 523.23H449.97"/>
<g fill="#0000cc"><circle cx="430.8" cy="515.61" r="2.58"/><circle cx="439.8" cy="520.69" r="2.58"/><circle cx="436.8" cy="525.49" r="2.58"/><circle cx="430.8" cy="530.86" r="2.58"/></g>
<path d="M481.4 517.3V548.37M473.52 517.3H489.28M473.52 548.37H489.28" stroke="#ff0000" stroke-width="0.8" fill="none"/>
<path class="mn" d="M465.23 532.55H497.57"/>
<path fill="#ff0000" d="M481.4 514.81L483.93 519.86H478.87ZM481.4 528.93L483.93 533.98H478.87ZM481.4 545.59L483.93 550.64H478.87Z"/>
<text class="L" transform="translate(529.2 457.8) scale(1.0000 1.0500)">L</text>
<path class="ax" d="M585.9 451.1V598.8M579.57 598.8H685"/>
<text class="tk" transform="translate(578.94 602.97) scale(1.0552 1.2662)">5.0</text>
<text class="tk" transform="translate(578.94 566.25) scale(1.0552 1.2662)">5.5</text>
<text class="tk" transform="translate(578.94 529.52) scale(1.0552 1.2662)">6.0</text>
<text class="tk" transform="translate(578.94 492.8) scale(1.0552 1.2662)">6.5</text>
<text class="tk" transform="translate(578.94 456.07) scale(1.0552 1.2662)">7.0</text>
<path class="tkl" d="M579.57 562.07H585.9M579.57 525.35H585.9M579.57 488.62H585.9M579.57 451.9H585.9M610.2 598.8V605.13M659.9 598.8V605.13"/>
<text class="yl" transform="translate(558.91 526.25) rotate(-90) scale(1.0552)">Expression of miR-221-3p</text>
<text class="pv" transform="translate(635.61 470.17) scale(1.0552 1.2873)">P=0.3320</text>
<text class="ct" transform="translate(610.97 617.78) scale(1.0552 1.2135)">Normal</text>
<text class="ct" transform="translate(660.67 617.78) scale(1.0552 1.2135)">HNSCC</text>
<text class="tt" transform="translate(635.9 639.61) scale(1.0552 1.1607)">GSE70289</text>
<path d="M610.2 535.63V567.22M601.97 535.63H618.43M601.97 567.22H618.43" stroke="#0000cc" stroke-width="0.8" fill="none"/>
<path class="mn" d="M593.32 551.5H627.08"/>
<g fill="#0000cc"><circle cx="610.63" cy="530.08" r="2.69"/><circle cx="607.08" cy="553.73" r="2.69"/><circle cx="613.92" cy="553.73" r="2.69"/><circle cx="610.63" cy="568.58" r="2.69"/></g>
<path d="M659.9 522.41V564.28M651.67 522.41H668.13M651.67 564.28H668.13" stroke="#ff0000" stroke-width="0.8" fill="none"/>
<path class="mn" d="M643.02 542.98H676.78"/>
<path fill="#ff0000" d="M659.65 499.19L662.28 504.46H657.01ZM656.36 517.06L659 522.33H653.72ZM663.19 517.06L665.83 522.33H660.56ZM659.65 529.81L662.28 535.08H657.01ZM649.79 545.57L652.43 550.85H647.15ZM669.5 543.34L672.14 548.62H666.86ZM653.07 551.49L655.71 556.76H650.44ZM656.36 549.12L659 554.4H653.72ZM662.93 549.12L665.57 554.4H660.29ZM666.48 550.83L669.12 556.11H663.84ZM659.65 557.4L662.28 562.68H657.01ZM659.65 575.8L662.28 581.07H657.01Z"/>
<text class="L" transform="translate(0 679.7) scale(1.0000 1.0500)">M</text>
<path class="ax" d="M61.3 683.1V827.3M55.22 827.3H157.6"/>
<text class="tk" transform="translate(54.62 831.35) scale(1.0127 1.2153)">2.3</text>
<text class="tk" transform="translate(54.62 802.67) scale(1.0127 1.2153)">2.4</text>
<text class="tk" transform="translate(54.62 773.99) scale(1.0127 1.2153)">2.5</text>
<text class="tk" transform="translate(54.62 745.31) scale(1.0127 1.2153)">2.6</text>
<text class="tk" transform="translate(54.62 716.63) scale(1.0127 1.2153)">2.7</text>
<text class="tk" transform="translate(54.62 687.95) scale(1.0127 1.2153)">2.8</text>
<path class="tkl" d="M55.22 798.62H61.3M55.22 769.94H61.3M55.22 741.26H61.3M55.22 712.58H61.3M55.22 683.9H61.3M85.6 827.3V833.38M133.3 827.3V833.38"/>
<text class="yl" transform="translate(34.68 756.5) rotate(-90) scale(1.0127)">Expression of miR-221-3p</text>
<text class="pv" transform="translate(109.76 703.19) scale(1.0127 1.2355)">P=0.8273</text>
<text class="ct" transform="translate(86.33 846.24) scale(1.0127 1.1646)">Normal</text>
<text class="ct" transform="translate(134.03 846.24) scale(1.0127 1.1646)">HNSCC</text>
<text class="tt" transform="translate(110.24 866.35) scale(1.0127 1.1140)">GSE73171</text>
<path d="M85.6 744.99V755.31M77.7 744.99H93.5M77.7 755.31H93.5" stroke="#0000cc" stroke-width="0.8" fill="none"/>
<path class="mn" d="M69.4 749.86H101.8"/>
<g fill="#0000cc"><circle cx="85.6" cy="744.99" r="2.58"/><circle cx="88.6" cy="749.86" r="2.58"/><circle cx="82.6" cy="755.31" r="2.58"/></g>
<path d="M133.3 740.11V766.5M125.4 740.11H141.2M125.4 766.5H141.2" stroke="#ff0000" stroke-width="0.8" fill="none"/>
<path class="mn" d="M117.1 753.59H149.5"/>
<path fill="#ff0000" d="M133.3 737.33L135.83 742.39H130.77ZM133.3 751.38L135.83 756.44H130.77ZM133.3 763.71L135.83 768.78H130.77Z"/>
<text class="L" transform="translate(173 679.7) scale(1.0000 1.0500)">N</text>
<path class="ax" d="M233.8 682.1V823.1M227.85 823.1H327"/>
<text class="tk" transform="translate(227.26 827.08) scale(0.9915 1.1898)">-0.8</text>
<text class="tk" transform="translate(227.26 803.71) scale(0.9915 1.1898)">-0.6</text>
<text class="tk" transform="translate(227.26 780.35) scale(0.9915 1.1898)">-0.4</text>
<text class="tk" transform="translate(227.26 756.98) scale(0.9915 1.1898)">-0.2</text>
<text class="tk" transform="translate(227.26 733.61) scale(0.9915 1.1898)">0.0</text>
<text class="tk" transform="translate(227.26 710.25) scale(0.9915 1.1898)">0.2</text>
<text class="tk" transform="translate(227.26 686.88) scale(0.9915 1.1898)">0.4</text>
<path class="tkl" d="M227.85 799.73H233.8M227.85 776.37H233.8M227.85 753H233.8M227.85 729.63H233.8M227.85 706.27H233.8M227.85 682.9H233.8M256.8 823.1V829.05M303.5 823.1V829.05"/>
<text class="yl" transform="translate(203.82 753.9) rotate(-90) scale(0.9915)">Expression of miR-221-3p</text>
<text class="pv" transform="translate(280.74 694.4) scale(0.9915 1.2096)">P=0.2800</text>
<text class="ct" transform="translate(257.52 841.77) scale(0.9915 1.1402)">Normal</text>
<text class="ct" transform="translate(304.22 841.77) scale(0.9915 1.1402)">HNSCC</text>
<text class="tt" transform="translate(280.91 861.77) scale(0.9915 1.0907)">GSE75630</text>
<path d="M256.8 731.27V794.36M249.07 731.27H264.53M249.07 794.36H264.53" stroke="#0000cc" stroke-width="0.8" fill="none"/>
<path class="mn" d="M240.94 762.81H272.66"/>
<g fill="#0000cc"><circle cx="253.62" cy="702.53" r="2.53"/><circle cx="263.05" cy="708.24" r="2.53"/><circle cx="259.83" cy="714.44" r="2.53"/><circle cx="253.62" cy="719.4" r="2.53"/><circle cx="256.85" cy="753.4" r="2.53"/><circle cx="250.65" cy="764.57" r="2.53"/><circle cx="256.85" cy="767.79" r="2.53"/><circle cx="263.05" cy="767.79" r="2.53"/><circle cx="243.95" cy="770.77" r="2.53"/><circle cx="269.26" cy="770.77" r="2.53"/><circle cx="248.91" cy="775.73" r="2.53"/><circle cx="254.37" cy="775.73" r="2.53"/><circle cx="259.83" cy="775.73" r="2.53"/><circle cx="264.79" cy="775.73" r="2.53"/><circle cx="256.85" cy="788.14" r="2.53"/><circle cx="253.13" cy="795.09" r="2.53"/><circle cx="259.83" cy="795.09" r="2.53"/><circle cx="256.85" cy="811.71" r="2.53"/></g>
<path d="M303.5 757.09V791.91M295.77 757.09H311.23M295.77 791.91H311.23" stroke="#ff0000" stroke-width="0.8" fill="none"/>
<path class="mn" d="M287.64 774.73H319.36"/>
<path fill="#ff0000" d="M303.25 727.84L305.73 732.8H300.77ZM303.25 734.79L305.73 739.75H300.77ZM306.48 751.91L308.96 756.87H304ZM300.27 753.4L302.75 758.36H297.79ZM294.07 756.38L296.55 761.34H291.59ZM312.68 759.36L315.16 764.32H310.2ZM300.27 761.34L302.75 766.3H297.79ZM306.48 761.34L308.96 766.3H304ZM290.84 766.31L293.32 771.26H288.36ZM316.4 766.31L318.88 771.26H313.92ZM297.05 768.04L299.53 773H294.57ZM309.45 768.04L311.93 773H306.98ZM303.25 771.27L305.73 776.23H300.77ZM294.07 774.99L296.55 779.95H291.59ZM312.68 774.99L315.16 779.95H310.2ZM300.27 778.22L302.75 783.17H297.79ZM306.48 778.22L308.96 783.17H304ZM316.4 784.92L318.88 789.87H313.92ZM290.84 786.9L293.32 791.86H288.36ZM297.05 788.64L299.53 793.6H294.57ZM309.45 788.64L311.93 793.6H306.98ZM303.25 792.36L305.73 797.32H300.77ZM297.05 796.08L299.53 801.04H294.57ZM303.25 798.56L305.73 803.52H300.77ZM309.45 798.56L311.93 803.52H306.98Z"/>
<text class="L" transform="translate(353.6 680.2) scale(1.0000 1.0500)">O</text>
<path class="ax" d="M413.2 679.4V824.9M407.03 824.9H510.3"/>
<text class="tk" transform="translate(406.42 828.99) scale(1.0276 1.2331)">0</text>
<text class="tk" transform="translate(406.42 800.05) scale(1.0276 1.2331)">2</text>
<text class="tk" transform="translate(406.42 771.11) scale(1.0276 1.2331)">4</text>
<text class="tk" transform="translate(406.42 742.17) scale(1.0276 1.2331)">6</text>
<text class="tk" transform="translate(406.42 713.23) scale(1.0276 1.2331)">8</text>
<text class="tk" transform="translate(406.42 684.29) scale(1.0276 1.2331)">10</text>
<path class="tkl" d="M407.03 795.96H413.2M407.03 767.02H413.2M407.03 738.08H413.2M407.03 709.14H413.2M407.03 680.2H413.2M437.3 824.9V831.07M485.7 824.9V831.07"/>
<text class="yl" transform="translate(389.33 753.45) rotate(-90) scale(1.0276)">Expression of miR-221-3p</text>
<text class="pv" transform="translate(461.88 693.35) scale(1.0276 1.2537)">P&lt;0.0001</text>
<text class="ct" transform="translate(438.05 843.38) scale(1.0276 1.1817)">Normal</text>
<text class="ct" transform="translate(486.45 843.38) scale(1.0276 1.1817)">HNSCC</text>
<text class="tt" transform="translate(462.31 864.4) scale(1.0276 1.1304)">GSE82064</text>
<path d="M437.3 739.24V748.21M429.28 739.24H445.32M429.28 748.21H445.32" stroke="#0000cc" stroke-width="0.8" fill="none"/>
<path class="mn" d="M420.86 743.58H453.74"/>
<g fill="#0000cc"><circle cx="424.14" cy="735.53" r="2.62"/><circle cx="450.46" cy="735.53" r="2.62"/><circle cx="428.53" cy="737.28" r="2.62"/><circle cx="445.78" cy="737.57" r="2.62"/><circle cx="432.62" cy="739.62" r="2.62"/><circle cx="435.54" cy="739.33" r="2.62"/><circle cx="438.47" cy="739.33" r="2.62"/><circle cx="441.39" cy="739.62" r="2.62"/><circle cx="442.56" cy="740.79" r="2.62"/><circle cx="425.89" cy="743.42" r="2.62"/><circle cx="448.12" cy="743.71" r="2.62"/><circle cx="429.7" cy="744.3" r="2.62"/><circle cx="432.62" cy="743.71" r="2.62"/><circle cx="435.54" cy="743.13" r="2.62"/><circle cx="438.47" cy="743.71" r="2.62"/><circle cx="441.39" cy="743.71" r="2.62"/><circle cx="444.32" cy="744.88" r="2.62"/><circle cx="431.45" cy="747.22" r="2.62"/><circle cx="434.37" cy="747.81" r="2.62"/><circle cx="437.3" cy="747.22" r="2.62"/><circle cx="440.22" cy="747.51" r="2.62"/><circle cx="443.15" cy="747.22" r="2.62"/><circle cx="433.79" cy="748.98" r="2.62"/><circle cx="437.3" cy="749.56" r="2.62"/><circle cx="440.81" cy="748.98" r="2.62"/><circle cx="437.3" cy="757.16" r="2.62"/></g>
<path d="M485.7 715.65V742.42M477.68 715.65H493.72M477.68 742.42H493.72" stroke="#ff0000" stroke-width="0.8" fill="none"/>
<path class="mn" d="M469.26 729.25H502.14"/>
<path fill="#ff0000" d="M482.26 694.11L484.83 699.25H479.69ZM472.41 702.14L474.98 707.28H469.84ZM488.47 700.68L491.04 705.82H485.9ZM498.32 702.5L500.89 707.64H495.75ZM478.61 705.79L481.18 710.93H476.04ZM485.18 707.25L487.75 712.39H482.61ZM491.75 706.52L494.32 711.66H489.18ZM472.77 709.07L475.34 714.21H470.2ZM497.96 708.71L500.53 713.84H495.39ZM472.41 743.74L474.98 748.88H469.84ZM476.42 745.57L478.99 750.71H473.85ZM494.31 745.2L496.88 750.34H491.74ZM498.32 744.84L500.89 749.98H495.75ZM480.8 748.49L483.37 753.63H478.23ZM485.18 749.58L487.75 754.72H482.61ZM489.56 749.22L492.13 754.36H486.99ZM482.26 754.33L484.83 759.47H479.69ZM488.47 757.61L491.04 762.75H485.9ZM472.29 709.72L474.86 714.86H469.72ZM475.7 711.12L478.26 716.26H473.13ZM479.2 711.79L481.77 716.93H476.63ZM482.01 712.74L484.58 717.88H479.44ZM485.51 712.61L488.08 717.75H482.94ZM489.4 712.52L491.97 717.66H486.83ZM492.57 711.95L495.14 717.09H490ZM495.71 710.85L498.28 715.99H493.14ZM499.01 709.96L501.58 715.1H496.44ZM472.52 712.54L475.09 717.68H469.95ZM475.94 713.48L478.51 718.62H473.37ZM479.31 714.73L481.88 719.87H476.74ZM482.24 714.89L484.81 720.03H479.67ZM485.99 715.36L488.56 720.49H483.42ZM489.18 715.39L491.74 720.53H486.61ZM492.47 714.84L495.04 719.98H489.9ZM495.52 713.9L498.08 719.04H492.95ZM498.86 712.67L501.42 717.81H496.29ZM472.8 714.88L475.37 720.02H470.23ZM475.51 716.03L478.08 721.16H472.94ZM479.47 717.27L482.04 722.41H476.9ZM482.5 717.68L485.07 722.82H479.93ZM485.71 717.91L488.27 723.04H483.14ZM488.88 717.85L491.45 722.99H486.31ZM492.37 717.46L494.94 722.59H489.8ZM495.75 716.5L498.31 721.64H493.18ZM499.19 715.15L501.75 720.29H496.62ZM472.64 724.46L475.21 729.6H470.07ZM476.09 725.91L478.66 731.05H473.52ZM479.42 726.33L481.99 731.47H476.85ZM482.57 726.48L485.14 731.62H480ZM485.97 726.82L488.53 731.96H483.4ZM488.83 726.39L491.4 731.53H486.26ZM492.58 726.48L495.15 731.62H490.01ZM495.27 725.82L497.84 730.96H492.7ZM498.83 724.43L501.4 729.57H496.26ZM472.34 727.33L474.9 732.46H469.77ZM476.1 727.96L478.67 733.1H473.53ZM479.19 728.58L481.76 733.72H476.62ZM482.57 729.15L485.14 734.29H480.01ZM486 729.66L488.57 734.8H483.44ZM489 729.54L491.57 734.68H486.44ZM492.15 728.61L494.72 733.74H489.58ZM495.68 727.86L498.25 733H493.11ZM498.66 727.24L501.23 732.38H496.09ZM472.59 729.64L475.16 734.78H470.02ZM475.43 730.89L478 736.03H472.86ZM478.95 731.69L481.52 736.82H476.38ZM482.72 731.79L485.29 736.93H480.15ZM485.67 731.99L488.24 737.12H483.1ZM489.12 731.89L491.68 737.03H486.55ZM492.35 731.5L494.92 736.64H489.78ZM495.95 730.68L498.52 735.82H493.38ZM498.84 729.97L501.41 735.11H496.28ZM472.29 736L474.86 741.14H469.72ZM476.18 737.15L478.75 742.29H473.61ZM479.14 737.39L481.71 742.53H476.57ZM482.33 738.09L484.9 743.23H479.76ZM485.32 738.24L487.89 743.38H482.75ZM489.11 737.78L491.67 742.92H486.54ZM492.4 737.64L494.97 742.78H489.83ZM495.74 736.93L498.31 742.07H493.17ZM499.07 736.28L501.63 741.42H496.5ZM472.12 738.4L474.69 743.54H469.55ZM475.94 739.96L478.51 745.1H473.37ZM478.9 740.22L481.47 745.36H476.33ZM482.47 740.55L485.04 745.69H479.91ZM485.59 740.66L488.16 745.8H483.02ZM488.9 740.71L491.46 745.85H486.33ZM492.14 740.23L494.71 745.36H489.57ZM495.82 739.32L498.39 744.46H493.25ZM498.96 738.91L501.52 744.05H496.39ZM485.7 788.37L488.27 793.51H483.13Z"/>
<text class="L" transform="translate(528.4 680) scale(1.0000 1.0500)">P</text>
<path class="ax" d="M587 670.8V816.1M580.81 816.1H685"/>
<text class="tk" transform="translate(580.19 820.2) scale(1.0318 1.2382)">1.6</text>
<text class="tk" transform="translate(580.19 784.08) scale(1.0318 1.2382)">1.8</text>
<text class="tk" transform="translate(580.19 747.95) scale(1.0318 1.2382)">2.0</text>
<text class="tk" transform="translate(580.19 711.83) scale(1.0318 1.2382)">2.2</text>
<text class="tk" transform="translate(580.19 675.7) scale(1.0318 1.2382)">2.4</text>
<path class="tkl" d="M580.81 779.98H587M580.81 743.85H587M580.81 707.73H587M580.81 671.6H587M611.3 816.1V822.29M659.9 816.1V822.29"/>
<text class="yl" transform="translate(560.24 744.75) rotate(-90) scale(1.0318)">Expression of miR-221-3p</text>
<text class="pv" transform="translate(636.08 689.57) scale(1.0318 1.2589)">P=0.2936</text>
<text class="ct" transform="translate(612.05 835) scale(1.0318 1.1866)">Normal</text>
<text class="ct" transform="translate(660.65 835) scale(1.0318 1.1866)">HNSCC</text>
<text class="tt" transform="translate(636.42 855.42) scale(1.0318 1.1350)">GSE98463</text>
<path d="M611.3 742.59V787.2M603.25 742.59H619.35M603.25 787.2H619.35" stroke="#0000cc" stroke-width="0.8" fill="none"/>
<path class="mn" d="M594.79 765.16H627.81"/>
<g fill="#0000cc"><circle cx="611.7" cy="725.74" r="2.63"/><circle cx="611.7" cy="740.93" r="2.63"/><circle cx="611.7" cy="759.03" r="2.63"/><circle cx="611.7" cy="765.8" r="2.63"/><circle cx="611.7" cy="772.46" r="2.63"/><circle cx="608.43" cy="782.5" r="2.63"/><circle cx="615.09" cy="782.74" r="2.63"/><circle cx="611.7" cy="790.33" r="2.63"/></g>
<path d="M659.9 757.76V794.43M651.85 757.76H667.95M651.85 794.43H667.95" stroke="#ff0000" stroke-width="0.8" fill="none"/>
<path class="mn" d="M643.39 776.36H676.41"/>
<path fill="#ff0000" d="M659.82 734.35L662.4 739.51H657.24ZM659.82 763.55L662.4 768.71H657.24ZM659.82 772.89L662.4 778.05H657.24ZM653.39 778.15L655.97 783.31H650.81ZM666.47 776.75L669.05 781.91H663.89ZM659.82 780.48L662.4 785.64H657.24ZM656.66 792.75L659.24 797.91H654.08ZM663.32 790.99L665.9 796.15H660.74Z"/>
<text class="L" transform="translate(1.2 909) scale(1.0000 1.0500)">Q</text>
<path class="ax" d="M64 905.6V1040.4M58.34 1040.4H153.3"/>
<text class="tk" transform="translate(57.78 1044.23) scale(0.9427 1.1312)">0</text>
<text class="tk" transform="translate(57.78 999.57) scale(0.9427 1.1312)">5</text>
<text class="tk" transform="translate(57.78 954.9) scale(0.9427 1.1312)">10</text>
<text class="tk" transform="translate(57.78 910.23) scale(0.9427 1.1312)">15</text>
<path class="tkl" d="M58.34 995.73H64M58.34 951.07H64M58.34 906.4H64M86.4 1040.4V1046.06M130.8 1040.4V1046.06"/>
<text class="yl" transform="translate(41.17 974.3) rotate(-90) scale(0.9427)">Expression of miR-221-3p</text>
<text class="pv" transform="translate(108.19 920.39) scale(0.9427 1.1501)">P&lt;0.001</text>
<text class="ct" transform="translate(87.08 1057.8) scale(0.9427 1.0841)">Normal</text>
<text class="ct" transform="translate(131.48 1057.8) scale(0.9427 1.0841)">HNSCC</text>
<text class="tt" transform="translate(109.3 1076.09) scale(0.9427 1.0369)">TCGA</text>
<path d="M86.4 963.13V972.06M79.05 963.13H93.75M79.05 972.06H93.75" stroke="#0000cc" stroke-width="0.8" fill="none"/>
<path class="mn" d="M71.32 967.68H101.48"/>
<g fill="#0000cc"><circle cx="86.34" cy="955.88" r="1.93"/><circle cx="79.77" cy="958.51" r="1.93"/><circle cx="92.25" cy="958.51" r="1.93"/><circle cx="83.71" cy="959.95" r="1.93"/><circle cx="88.31" cy="959.95" r="1.93"/><circle cx="73.2" cy="963.11" r="1.93"/><circle cx="76.48" cy="963.11" r="1.93"/><circle cx="79.77" cy="963.11" r="1.93"/><circle cx="83.05" cy="963.11" r="1.93"/><circle cx="86.34" cy="963.11" r="1.93"/><circle cx="89.62" cy="963.11" r="1.93"/><circle cx="92.91" cy="963.11" r="1.93"/><circle cx="96.19" cy="963.11" r="1.93"/><circle cx="99.48" cy="963.11" r="1.93"/><circle cx="81.08" cy="964.68" r="1.93"/><circle cx="86.34" cy="964.68" r="1.93"/><circle cx="91.6" cy="964.68" r="1.93"/><circle cx="72.54" cy="967.71" r="1.93"/><circle cx="75.83" cy="967.71" r="1.93"/><circle cx="79.11" cy="967.71" r="1.93"/><circle cx="82.4" cy="967.71" r="1.93"/><circle cx="85.68" cy="967.71" r="1.93"/><circle cx="88.97" cy="967.71" r="1.93"/><circle cx="92.25" cy="967.71" r="1.93"/><circle cx="95.54" cy="967.71" r="1.93"/><circle cx="98.82" cy="967.71" r="1.93"/><circle cx="73.86" cy="970.34" r="1.93"/><circle cx="77.14" cy="970.34" r="1.93"/><circle cx="80.43" cy="970.34" r="1.93"/><circle cx="83.71" cy="970.34" r="1.93"/><circle cx="87" cy="970.34" r="1.93"/><circle cx="90.28" cy="970.34" r="1.93"/><circle cx="93.57" cy="970.34" r="1.93"/><circle cx="96.85" cy="970.34" r="1.93"/><circle cx="81.74" cy="974.28" r="1.93"/><circle cx="85.02" cy="973.88" r="1.93"/><circle cx="90.28" cy="974.54" r="1.93"/><circle cx="86.34" cy="978.22" r="1.93"/><circle cx="88.31" cy="978.88" r="1.93"/><circle cx="83.97" cy="982.82" r="1.93"/></g>
<path d="M130.8 953.75V973.4M123.45 953.75H138.15M123.45 973.4H138.15" stroke="#ff0000" stroke-width="0.8" fill="none"/>
<path class="mn" d="M115.72 963.57H145.88"/>
<path fill="#ff0000" d="M116.4 949.24L117.85 952.14H114.95ZM118.8 949.11L120.25 952.01H117.35ZM121.2 949.1L122.65 952H119.75ZM123.6 949.14L125.05 952.04H122.15ZM126 949.45L127.45 952.35H124.55ZM128.4 949.14L129.85 952.04H126.95ZM130.8 949.22L132.25 952.12H129.35ZM133.2 949.4L134.65 952.3H131.75ZM135.6 949.32L137.05 952.22H134.15ZM138 949.56L139.45 952.46H136.55ZM140.4 949.29L141.85 952.19H138.95ZM142.8 949.25L144.25 952.15H141.35ZM117.6 950.51L119.05 953.41H116.15ZM120 950.27L121.45 953.17H118.55ZM122.4 950.68L123.85 953.58H120.95ZM124.8 950.37L126.25 953.27H123.35ZM127.2 950.38L128.65 953.28H125.75ZM129.6 950.55L131.05 953.45H128.15ZM132 950.23L133.45 953.13H130.55ZM134.4 950.54L135.85 953.44H132.95ZM136.8 950.65L138.25 953.55H135.35ZM139.2 950.35L140.65 953.25H137.75ZM141.6 950.71L143.05 953.61H140.15ZM144 950.46L145.45 953.36H142.55ZM116.4 951.76L117.85 954.66H114.95ZM118.8 951.57L120.25 954.47H117.35ZM121.2 951.53L122.65 954.43H119.75ZM123.6 951.45L125.05 954.35H122.15ZM126 951.3L127.45 954.2H124.55ZM128.4 951.42L129.85 954.32H126.95ZM130.8 951.89L132.25 954.79H129.35ZM133.2 951.61L134.65 954.51H131.75ZM135.6 951.57L137.05 954.47H134.15ZM138 951.83L139.45 954.73H136.55ZM140.4 951.66L141.85 954.56H138.95ZM142.8 951.88L144.25 954.78H141.35ZM117.6 952.66L119.05 955.56H116.15ZM120 952.57L121.45 955.47H118.55ZM122.4 953L123.85 955.9H120.95ZM124.8 952.54L126.25 955.44H123.35ZM127.2 952.92L128.65 955.82H125.75ZM129.6 952.8L131.05 955.7H128.15ZM132 953.03L133.45 955.93H130.55ZM134.4 953.01L135.85 955.91H132.95ZM136.8 952.84L138.25 955.74H135.35ZM139.2 952.47L140.65 955.37H137.75ZM141.6 952.46L143.05 955.36H140.15ZM144 952.73L145.45 955.63H142.55ZM116.4 954.08L117.85 956.98H114.95ZM118.8 953.64L120.25 956.54H117.35ZM121.2 953.85L122.65 956.75H119.75ZM123.6 953.64L125.05 956.54H122.15ZM126 953.78L127.45 956.68H124.55ZM128.4 953.6L129.85 956.5H126.95ZM130.8 953.79L132.25 956.69H129.35ZM133.2 953.91L134.65 956.81H131.75ZM135.6 953.71L137.05 956.61H134.15ZM138 954.07L139.45 956.97H136.55ZM140.4 953.63L141.85 956.53H138.95ZM142.8 953.72L144.25 956.62H141.35ZM117.6 954.9L119.05 957.8H116.15ZM120 954.99L121.45 957.89H118.55ZM122.4 955.2L123.85 958.1H120.95ZM124.8 954.96L126.25 957.86H123.35ZM127.2 955.16L128.65 958.06H125.75ZM129.6 955.3L131.05 958.2H128.15ZM132 954.82L133.45 957.72H130.55ZM134.4 955.26L135.85 958.16H132.95ZM136.8 955.1L138.25 958H135.35ZM139.2 955.19L140.65 958.09H137.75ZM141.6 955.11L143.05 958.01H140.15ZM144 954.99L145.45 957.89H142.55ZM116.4 955.95L117.85 958.85H114.95ZM118.8 955.98L120.25 958.88H117.35ZM121.2 956L122.65 958.9H119.75ZM123.6 956L125.05 958.9H122.15ZM126 955.98L127.45 958.88H124.55ZM128.4 956.02L129.85 958.92H126.95ZM130.8 956.23L132.25 959.13H129.35ZM133.2 956.36L134.65 959.26H131.75ZM135.6 956.37L137.05 959.27H134.15ZM138 956.4L139.45 959.3H136.55ZM140.4 955.96L141.85 958.86H138.95ZM142.8 956.39L144.25 959.29H141.35ZM117.6 957.15L119.05 960.05H116.15ZM120 957.09L121.45 959.99H118.55ZM122.4 957.22L123.85 960.12H120.95ZM124.8 957.39L126.25 960.29H123.35ZM127.2 957.07L128.65 959.97H125.75ZM129.6 957.17L131.05 960.07H128.15ZM132 957.28L133.45 960.18H130.55ZM134.4 957.54L135.85 960.44H132.95ZM136.8 957.28L138.25 960.18H135.35ZM139.2 957.29L140.65 960.19H137.75ZM141.6 957.27L143.05 960.17H140.15ZM144 957.1L145.45 960H142.55ZM116.4 958.72L117.85 961.62H114.95ZM118.8 958.75L120.25 961.65H117.35ZM121.2 958.63L122.65 961.53H119.75ZM123.6 958.43L125.05 961.33H122.15ZM126 958.46L127.45 961.36H124.55ZM128.4 958.38L129.85 961.28H126.95ZM130.8 958.59L132.25 961.49H129.35ZM133.2 958.59L134.65 961.49H131.75ZM135.6 958.38L137.05 961.28H134.15ZM138 958.72L139.45 961.62H136.55ZM140.4 958.63L141.85 961.53H138.95ZM142.8 958.32L144.25 961.22H141.35ZM117.6 959.83L119.05 962.73H116.15ZM120 959.75L121.45 962.65H118.55ZM122.4 959.49L123.85 962.39H120.95ZM124.8 959.52L126.25 962.42H123.35ZM127.2 959.79L128.65 962.69H125.75ZM129.6 959.39L131.05 962.29H128.15ZM132 959.61L133.45 962.51H130.55ZM134.4 959.92L135.85 962.82H132.95ZM136.8 959.5L138.25 962.4H135.35ZM139.2 959.64L140.65 962.54H137.75ZM141.6 959.89L143.05 962.79H140.15ZM144 959.87L145.45 962.77H142.55ZM116.4 960.97L117.85 963.87H114.95ZM118.8 960.81L120.25 963.71H117.35ZM121.2 961.05L122.65 963.95H119.75ZM123.6 960.65L125.05 963.55H122.15ZM126 961.02L127.45 963.92H124.55ZM128.4 960.74L129.85 963.64H126.95ZM130.8 960.89L132.25 963.79H129.35ZM133.2 960.86L134.65 963.76H131.75ZM135.6 960.66L137.05 963.56H134.15ZM138 960.9L139.45 963.8H136.55ZM140.4 960.86L141.85 963.76H138.95ZM142.8 961.09L144.25 963.99H141.35ZM117.6 962.04L119.05 964.94H116.15ZM120 961.91L121.45 964.81H118.55ZM122.4 961.87L123.85 964.77H120.95ZM124.8 962.18L126.25 965.08H123.35ZM127.2 961.85L128.65 964.75H125.75ZM129.6 962.04L131.05 964.94H128.15ZM132 962.06L133.45 964.96H130.55ZM134.4 962.22L135.85 965.12H132.95ZM136.8 961.76L138.25 964.66H135.35ZM139.2 962.04L140.65 964.94H137.75ZM141.6 961.75L143.05 964.65H140.15ZM144 962.03L145.45 964.93H142.55ZM116.4 963.19L117.85 966.09H114.95ZM118.8 963.24L120.25 966.14H117.35ZM121.2 963.31L122.65 966.21H119.75ZM123.6 962.93L125.05 965.83H122.15ZM126 963.31L127.45 966.21H124.55ZM128.4 963L129.85 965.9H126.95ZM130.8 963.03L132.25 965.93H129.35ZM133.2 962.86L134.65 965.76H131.75ZM135.6 963.11L137.05 966.01H134.15ZM138 962.79L139.45 965.69H136.55ZM140.4 962.98L141.85 965.88H138.95ZM142.8 963.2L144.25 966.1H141.35ZM117.6 964.39L119.05 967.29H116.15ZM120 964.04L121.45 966.94H118.55ZM122.4 964.41L123.85 967.31H120.95ZM124.8 964.21L126.25 967.11H123.35ZM127.2 964.07L128.65 966.97H125.75ZM129.6 964.39L131.05 967.29H128.15ZM132 964.39L133.45 967.29H130.55ZM134.4 964.22L135.85 967.12H132.95ZM136.8 964.26L138.25 967.16H135.35ZM139.2 964.31L140.65 967.21H137.75ZM141.6 964.32L143.05 967.22H140.15ZM144 964.4L145.45 967.3H142.55ZM116.4 965.55L117.85 968.45H114.95ZM118.8 965.21L120.25 968.11H117.35ZM121.2 965.11L122.65 968.01H119.75ZM123.6 965.16L125.05 968.06H122.15ZM126 965.28L127.45 968.18H124.55ZM128.4 965.44L129.85 968.34H126.95ZM130.8 965.67L132.25 968.57H129.35ZM133.2 965.34L134.65 968.24H131.75ZM135.6 965.31L137.05 968.21H134.15ZM138 965.43L139.45 968.33H136.55ZM140.4 965.66L141.85 968.56H138.95ZM142.8 965.45L144.25 968.35H141.35ZM117.6 966.42L119.05 969.32H116.15ZM120 966.7L121.45 969.6H118.55ZM122.4 966.84L123.85 969.74H120.95ZM124.8 966.72L126.25 969.62H123.35ZM127.2 966.48L128.65 969.38H125.75ZM129.6 966.35L131.05 969.25H128.15ZM132 966.52L133.45 969.42H130.55ZM134.4 966.32L135.85 969.22H132.95ZM136.8 966.32L138.25 969.22H135.35ZM139.2 966.51L140.65 969.41H137.75ZM141.6 966.75L143.05 969.65H140.15ZM144 966.66L145.45 969.56H142.55ZM116.4 967.64L117.85 970.54H114.95ZM118.8 967.97L120.25 970.87H117.35ZM121.2 967.5L122.65 970.4H119.75ZM123.6 967.54L125.05 970.44H122.15ZM126 967.56L127.45 970.46H124.55ZM128.4 967.74L129.85 970.64H126.95ZM130.8 967.93L132.25 970.83H129.35ZM133.2 967.62L134.65 970.52H131.75ZM135.6 967.89L137.05 970.79H134.15ZM138 967.96L139.45 970.86H136.55ZM140.4 967.68L141.85 970.58H138.95ZM142.8 967.93L144.25 970.83H141.35ZM117.6 969.08L119.05 971.98H116.15ZM120 968.83L121.45 971.73H118.55ZM122.4 968.64L123.85 971.54H120.95ZM124.8 968.59L126.25 971.49H123.35ZM127.2 968.69L128.65 971.59H125.75ZM129.6 968.82L131.05 971.72H128.15ZM132 968.55L133.45 971.45H130.55ZM134.4 968.74L135.85 971.64H132.95ZM136.8 968.84L138.25 971.74H135.35ZM139.2 968.74L140.65 971.64H137.75ZM141.6 968.98L143.05 971.88H140.15ZM144 968.88L145.45 971.78H142.55ZM116.4 970.01L117.85 972.91H114.95ZM118.8 970.07L120.25 972.97H117.35ZM121.2 970.04L122.65 972.94H119.75ZM123.6 969.94L125.05 972.84H122.15ZM126 969.79L127.45 972.69H124.55ZM128.4 970.05L129.85 972.95H126.95ZM130.8 969.72L132.25 972.62H129.35ZM133.2 969.71L134.65 972.61H131.75ZM135.6 969.9L137.05 972.8H134.15ZM138 969.83L139.45 972.73H136.55ZM140.4 970.15L141.85 973.05H138.95ZM142.8 969.79L144.25 972.69H141.35ZM117.6 971.11L119.05 974.01H116.15ZM120 971.26L121.45 974.16H118.55ZM122.4 971.09L123.85 973.99H120.95ZM124.8 971.33L126.25 974.23H123.35ZM127.2 970.91L128.65 973.81H125.75ZM129.6 970.95L131.05 973.85H128.15ZM132 971.01L133.45 973.91H130.55ZM134.4 971.06L135.85 973.96H132.95ZM136.8 971.18L138.25 974.08H135.35ZM139.2 970.96L140.65 973.86H137.75ZM141.6 971.18L143.05 974.08H140.15ZM144 971.26L145.45 974.16H142.55ZM116.4 972.38L117.85 975.28H114.95ZM118.8 972.48L120.25 975.38H117.35ZM121.2 972.04L122.65 974.94H119.75ZM123.6 972.4L125.05 975.3H122.15ZM126 972.43L127.45 975.33H124.55ZM128.4 972.49L129.85 975.39H126.95ZM130.8 972.08L132.25 974.98H129.35ZM133.2 972.04L134.65 974.94H131.75ZM135.6 972.45L137.05 975.35H134.15ZM138 972.38L139.45 975.28H136.55ZM140.4 972.09L141.85 974.99H138.95ZM142.8 972.52L144.25 975.42H141.35ZM117.6 973.57L119.05 976.47H116.15ZM120 973.51L121.45 976.41H118.55ZM122.4 973.6L123.85 976.5H120.95ZM124.8 973.51L126.25 976.41H123.35ZM127.2 973.35L128.65 976.25H125.75ZM129.6 973.17L131.05 976.07H128.15ZM132 973.35L133.45 976.25H130.55ZM134.4 973.52L135.85 976.42H132.95ZM136.8 973.26L138.25 976.16H135.35ZM139.2 973.25L140.65 976.15H137.75ZM141.6 973.21L143.05 976.11H140.15ZM144 973.44L145.45 976.34H142.55ZM117.57 974.93L119.02 977.83H116.12ZM120.22 974.93L121.67 977.83H118.77ZM122.86 974.93L124.31 977.83H121.41ZM125.51 974.93L126.96 977.83H124.06ZM128.15 974.93L129.6 977.83H126.7ZM130.8 974.93L132.25 977.83H129.35ZM133.45 974.93L134.9 977.83H132ZM136.09 974.93L137.54 977.83H134.64ZM138.74 974.93L140.19 977.83H137.29ZM141.38 974.93L142.83 977.83H139.93ZM144.03 974.93L145.48 977.83H142.58ZM118.55 976.27L120 979.17H117.1ZM121 976.27L122.45 979.17H119.55ZM123.45 976.27L124.9 979.17H122ZM125.9 976.27L127.35 979.17H124.45ZM128.35 976.27L129.8 979.17H126.9ZM130.8 976.27L132.25 979.17H129.35ZM133.25 976.27L134.7 979.17H131.8ZM135.7 976.27L137.15 979.17H134.25ZM138.15 976.27L139.6 979.17H136.7ZM140.6 976.27L142.05 979.17H139.15ZM143.05 976.27L144.5 979.17H141.6ZM120.51 977.34L121.96 980.24H119.06ZM123.08 977.34L124.53 980.24H121.63ZM125.66 977.34L127.11 980.24H124.21ZM128.23 977.34L129.68 980.24H126.78ZM130.8 977.34L132.25 980.24H129.35ZM133.37 977.34L134.82 980.24H131.92ZM135.95 977.34L137.4 980.24H134.5ZM138.52 977.34L139.97 980.24H137.07ZM141.09 977.34L142.54 980.24H139.64ZM122.96 978.24L124.41 981.14H121.51ZM125.57 978.24L127.02 981.14H124.12ZM128.19 978.24L129.64 981.14H126.74ZM130.8 978.24L132.25 981.14H129.35ZM133.41 978.24L134.86 981.14H131.96ZM136.03 978.24L137.48 981.14H134.58ZM138.64 978.24L140.09 981.14H137.19ZM125.41 979.13L126.86 982.03H123.96ZM128.11 979.13L129.56 982.03H126.66ZM130.8 979.13L132.25 982.03H129.35ZM133.5 979.13L134.94 982.03H132.05ZM136.19 979.13L137.64 982.03H134.74ZM125.8 945L127.25 947.9H124.35ZM128.3 945.45L129.75 948.35H126.85ZM130.8 944.56L132.25 947.46H129.35ZM133.3 945.45L134.75 948.35H131.85ZM135.8 945L137.25 947.9H134.35ZM129.6 946.79L131.05 949.69H128.15ZM132 946.79L133.45 949.69H130.55ZM127.3 947.24L128.75 950.14H125.85ZM134.3 947.24L135.75 950.14H132.85ZM130.8 941.43L132.25 944.33H129.35ZM130.8 930.71L132.25 933.61H129.35ZM130.8 981.19L132.25 984.09H129.35ZM130.8 983.42L132.25 986.32H129.35ZM130.8 985.83L132.25 988.73H129.35ZM130.8 988.78L132.25 991.68H129.35ZM130.8 991.46L132.25 994.36H129.35ZM128.3 980.29L129.75 983.19H126.85ZM133.3 980.29L134.75 983.19H131.85Z"/>
<text class="L" transform="translate(173.7 909.6) scale(1.0000 1.0500)">R</text>
<path class="ax" d="M232 901.4V1039.9M226.15 1039.9H324.3"/>
<text class="tk" transform="translate(225.57 1043.83) scale(0.9745 1.1694)">0</text>
<text class="tk" transform="translate(225.57 1009.41) scale(0.9745 1.1694)">1</text>
<text class="tk" transform="translate(225.57 974.98) scale(0.9745 1.1694)">2</text>
<text class="tk" transform="translate(225.57 940.56) scale(0.9745 1.1694)">3</text>
<text class="tk" transform="translate(225.57 906.13) scale(0.9745 1.1694)">4</text>
<path class="tkl" d="M226.15 1005.48H232M226.15 971.05H232M226.15 936.62H232M226.15 902.2H232M254.9 1039.9V1045.75M300.8 1039.9V1045.75"/>
<text class="yl" transform="translate(213.77 971.95) rotate(-90) scale(0.9745)">Expression of miR-221-3p</text>
<text class="pv" transform="translate(278.22 919.83) scale(0.9745 1.1889)">P&lt;0.0001</text>
<text class="ct" transform="translate(255.61 1057.91) scale(0.9745 1.1207)">Normal</text>
<text class="ct" transform="translate(301.51 1057.91) scale(0.9745 1.1207)">HNSCC</text>
<text class="tt" transform="translate(278.37 1079.81) scale(0.9745 1.0720)" style="letter-spacing:2.3px">PMID 30928631</text>
<path d="M254.9 1003.75V1019.25M247.3 1003.75H262.5M247.3 1019.25H262.5" stroke="#0000cc" stroke-width="0.8" fill="none"/>
<path class="mn" d="M239.31 1011.33H270.49"/>
<g fill="#0000cc"><circle cx="257.92" cy="996.62" r="2.49"/><circle cx="251.74" cy="997.67" r="2.49"/><circle cx="242.15" cy="1000.95" r="2.49"/><circle cx="248.45" cy="1001.61" r="2.49"/><circle cx="267.51" cy="1001.87" r="2.49"/><circle cx="255.02" cy="1004.5" r="2.49"/><circle cx="261.6" cy="1004.24" r="2.49"/><circle cx="252" cy="1007.52" r="2.49"/><circle cx="258.31" cy="1006.73" r="2.49"/><circle cx="265.54" cy="1008.05" r="2.49"/><circle cx="244.25" cy="1008.84" r="2.49"/><circle cx="247.8" cy="1011.07" r="2.49"/><circle cx="251.74" cy="1012.39" r="2.49"/><circle cx="255.02" cy="1011.73" r="2.49"/><circle cx="258.97" cy="1011.47" r="2.49"/><circle cx="262.91" cy="1011.07" r="2.49"/><circle cx="251.08" cy="1014.36" r="2.49"/><circle cx="260.94" cy="1015.41" r="2.49"/><circle cx="267.51" cy="1014.09" r="2.49"/><circle cx="242.15" cy="1019.35" r="2.49"/><circle cx="245.56" cy="1017.64" r="2.49"/><circle cx="255.02" cy="1018.56" r="2.49"/><circle cx="261.6" cy="1021.58" r="2.49"/><circle cx="248.72" cy="1021.98" r="2.49"/><circle cx="267.51" cy="1020.93" r="2.49"/><circle cx="255.02" cy="1025.53" r="2.49"/></g>
<path d="M300.8 951.08V982.75M293.2 951.08H308.4M293.2 982.75H308.4" stroke="#ff0000" stroke-width="0.8" fill="none"/>
<path class="mn" d="M285.21 966.23H316.39"/>
<path fill="#ff0000" d="M301.02 932.83L303.45 937.71H298.58ZM294.71 939.4L297.15 944.28H292.27ZM301.02 942.03L303.45 946.9H298.58ZM307.32 939.4L309.76 944.28H304.89ZM291.42 949.65L293.86 954.53H288.99ZM310.22 949.65L312.65 954.53H307.78ZM297.99 953.46L300.43 958.34H295.56ZM304.3 953.2L306.74 958.07H301.87ZM294.71 957.54L297.15 962.41H292.27ZM307.32 957.14L309.76 962.02H304.89ZM301.02 961.08L303.45 965.96H298.58ZM287.88 966.34L290.31 971.21H285.44ZM293.13 966.34L295.57 971.21H290.7ZM303.65 967L306.08 971.87H301.21ZM308.51 966.34L310.94 971.21H306.07ZM313.5 965.68L315.94 970.56H311.06ZM298.39 970.94L300.83 975.81H295.95ZM288.27 974.62L290.71 979.49H285.83ZM313.5 974.62L315.94 979.49H311.06ZM292.48 977.51L294.91 982.38H290.04ZM308.9 977.25L311.34 982.12H306.47ZM297.07 980.14L299.51 985.01H294.64ZM301.67 980.14L304.11 985.01H299.24ZM305.62 980.14L308.05 985.01H303.18ZM304.3 984.08L306.74 988.95H301.87ZM297.73 988.02L300.17 992.9H295.3Z"/>
</svg></body></html>
